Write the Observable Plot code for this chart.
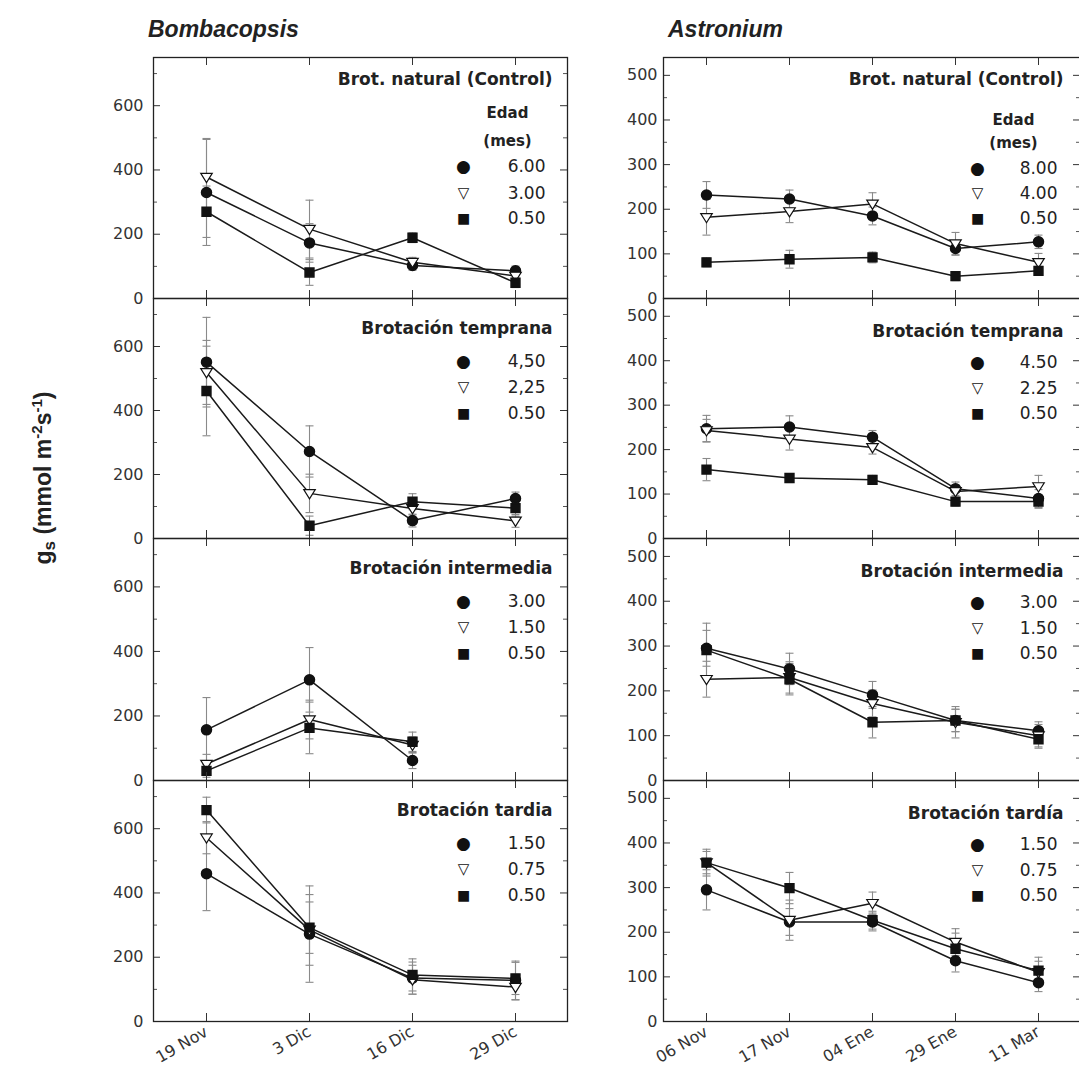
<!DOCTYPE html>
<html><head><meta charset="utf-8">
<script src="https://cdn.jsdelivr.net/npm/d3@7"></script>
<script src="https://cdn.jsdelivr.net/npm/@observablehq/plot@0.6"></script>
<style>
html,body{margin:0;padding:0;background:#fff;overflow:hidden}
#wrap{position:relative;width:1079px;height:1079px;overflow:hidden;background:#fff;font-family:"Liberation Sans",Arial,sans-serif}
.panel{position:absolute}
.coltitle{position:absolute;font-weight:bold;font-style:italic;font-size:23px;color:#222;line-height:1}
#ylab{position:absolute;left:44px;top:478px;transform:translate(-50%,-50%) rotate(-90deg);font-weight:bold;font-size:23px;white-space:nowrap;color:#222}
#ylab sub{font-size:17px;vertical-align:-4px}
#ylab sup{font-size:15px;vertical-align:9px}
g[aria-label="ptitle"] text{letter-spacing:1.7px}
g[aria-label="pvalue"] text{letter-spacing:1.3px}
</style></head><body><div id="wrap">
<div class="coltitle" style="left:148px;top:18px">Bombacopsis</div>
<div class="coltitle" style="left:668px;top:18px">Astronium</div>
<div id="ylab">g<sub>s</sub> (mmol m<sup>-2</sup>s<sup>-1</sup>)</div>
</div>
<script>
// ---------- data ----------
const bomDates = ["19 Nov", "3 Dic", "16 Dic", "29 Dic"];
const astDates = ["06 Nov", "17 Nov", "04 Ene", "29 Ene", "11 Mar"];

const bomTitles = ["Brot. natural (Control)", "Brotación temprana", "Brotación intermedia", "Brotación tardia"];
const astTitles = ["Brot. natural (Control)", "Brotación temprana", "Brotación intermedia", "Brotación tardía"];

const bomAges = [["6.00", "3.00", "0.50"], ["4,50", "2,25", "0.50"], ["3.00", "1.50", "0.50"], ["1.50", "0.75", "0.50"]];
const astAges = [["8.00", "4.00", "0.50"], ["4.50", "2.25", "0.50"], ["3.00", "1.50", "0.50"], ["1.50", "0.75", "0.50"]];

const bomYTicks = [0, 200, 400, 600];
const bomYMinor = [100, 300, 500, 700];
const astYTicks = [0, 100, 200, 300, 400, 500];
const astYMinor = [50, 150, 250, 350, 450];

// Bombacopsis (rows: natural, temprana, intermedia, tardia)
const bomCircle = [[330, 173, 103, 86], [551, 272, 56, 125], [157, 312, 62, null], [460, 272, 135, 128]];
const bomCircleErr = [[165, 60, 15, 15], [140, 80, 20, 20], [100, 100, 25, null], [115, 150, 50, 60]];
const bomTriangle = [[378, 216, 113, 70], [519, 141, 94, 55], [51, 189, 110, null], [572, 285, 130, 107]];
const bomTriangleErr = [[120, 90, 15, 15], [100, 60, 20, 20], [30, 60, 25, null], [50, 110, 45, 40]];
const bomSquare = [[270, 81, 189, 49], [461, 40, 115, 95], [30, 163, 120, null], [658, 292, 145, 134]];
const bomSquareErr = [[80, 40, 15, 15], [140, 30, 25, 25], [20, 80, 30, null], [40, 80, 50, 50]];

// Astronium
const astCircle = [[232, 223, 185, 112, 127], [247, 251, 228, 112, 90], [295, 249, 191, 134, 111], [295, 223, 223, 136, 87]];
const astCircleErr = [[30, 20, 20, 15, 15], [30, 25, 15, 15, 20], [40, 35, 30, 25, 20], [45, 30, 20, 25, 20]];
const astTriangle = [[182, 195, 212, 123, 81], [243, 224, 205, 106, 117], [226, 230, 172, 130, 100], [356, 227, 265, 178, 110]];
const astTriangleErr = [[40, 25, 25, 25, 20], [25, 25, 15, 15, 25], [40, 35, 30, 35, 25], [30, 45, 25, 30, 25]];
const astSquare = [[81, 88, 92, 50, 62], [155, 136, 132, 83, 83], [291, 226, 130, 134, 92], [356, 299, 227, 163, 114]];
const astSquareErr = [[10, 20, 12, 10, 10], [25, 10, 10, 10, 15], [60, 35, 35, 25, 20], [25, 35, 20, 35, 30]];

// ---------- drawing ----------
const rowTops = [57, 298, 538, 780, 1021];
const capSymbol = {draw(ctx, size) { const r = Math.sqrt(size / Math.PI); ctx.moveTo(-r, 0); ctx.lineTo(r, 0); }};
const triDown = {draw(ctx, size) { const r = Math.sqrt(size / Math.PI) * 1.15; ctx.moveTo(-r, -r * 0.65); ctx.lineTo(r, -r * 0.65); ctx.lineTo(0, r * 0.95); ctx.closePath(); }};
const legendGlyphs = ["●", "▽", "■"];
const glyphSizes = [17, 15, 14];

function series(dates, vals, errs, s) {
  return dates.map((d, i) => ({date: d, v: vals[i], e: errs[i], s})).filter(o => o.v != null);
}

function makePanel(col, row) {
  const left = col === 0;
  const dates = left ? bomDates : astDates;
  const c = series(dates, (left ? bomCircle : astCircle)[row], (left ? bomCircleErr : astCircleErr)[row], "c");
  const t = series(dates, (left ? bomTriangle : astTriangle)[row], (left ? bomTriangleErr : astTriangleErr)[row], "t");
  const q = series(dates, (left ? bomSquare : astSquare)[row], (left ? bomSquareErr : astSquareErr)[row], "q");
  const all = [...c, ...t, ...q];
  const top = rowTops[row], fh = rowTops[row + 1] - top;
  const mTop = 12, mBottom = row === 3 ? 58 : 12;
  const svgLeft = left ? 0 : 580;
  const mLeft = left ? 153 : 83;
  const width = left ? 572 : 502;
  const mRight = left ? 5 : 2;
  const fw = width - mLeft - mRight;
  const yMax = left ? 750 : 540;
  const yTicks = left ? bomYTicks : astYTicks;
  const yMinor = left ? bomYMinor : astYMinor;
  const title = (left ? bomTitles : astTitles)[row];
  const ages = (left ? bomAges : astAges)[row];

  // legend layout (offsets from the panel's top-right corner)
  let L;
  if (left) L = row === 0 ? {t: 22, e: 56, m: 84, rows: [109, 136, 161], tdx: -15, edx: -60, sdx: -104, vdx: -22}
                           : {t: 30, rows: [63, 89, 115], tdx: -15, sdx: -104, vdx: -22};
  else L = row === 0 ? {t: 22, e: 63, m: 86, rows: [111, 136, 161], tdx: -17, edx: -67, sdx: -103, vdx: -23}
                     : {t: 33, rows: [64, 90, 115], tdx: -17, sdx: -103, vdx: -23};

  const txt = {frameAnchor: "top-right", text: d => d, lineAnchor: "middle", fill: "#222"};
  const marks = [
    // error bars
    Plot.ruleX(all, {x: "date", y1: d => d.v - d.e, y2: d => d.v + d.e, stroke: "#8a8a8a", strokeWidth: 1.1}),
    Plot.dot(all, {x: "date", y: d => d.v - d.e, symbol: capSymbol, r: 4, stroke: "#8a8a8a", strokeWidth: 1.1}),
    Plot.dot(all, {x: "date", y: d => d.v + d.e, symbol: capSymbol, r: 4, stroke: "#8a8a8a", strokeWidth: 1.1}),
    // lines
    Plot.line(all, {x: "date", y: "v", z: "s", stroke: "#1a1a1a", strokeWidth: 1.5}),
    // markers
    Plot.dot(c, {x: "date", y: "v", symbol: "circle", r: 5, fill: "#111", stroke: "#111"}),
    Plot.dot(t, {x: "date", y: "v", symbol: triDown, r: 5, fill: "#fff", stroke: "#111", strokeWidth: 1.2}),
    Plot.dot(q, {x: "date", y: "v", symbol: "square", r: 5, fill: "#111", stroke: "#111"}),
    // inward ticks
    Plot.ruleY(yTicks, {y: d => d, insetRight: fw - 7, stroke: "#333"}),
    Plot.ruleY(yTicks, {y: d => d, insetLeft: fw - 7, stroke: "#333"}),
    Plot.ruleY(yMinor, {y: d => d, insetRight: fw - 4, stroke: "#555"}),
    Plot.ruleY(yMinor, {y: d => d, insetLeft: fw - 4, stroke: "#555"}),
    Plot.ruleX(dates, {x: d => d, insetBottom: fh - 8, stroke: "#333"}),
    Plot.ruleX(dates, {x: d => d, insetTop: fh - 8, stroke: "#333"}),
    Plot.frame({stroke: "#222", strokeWidth: 1.3}),
    // panel label
    Plot.text([title], {...txt, dx: L.tdx, dy: L.t, textAnchor: "end", fontWeight: "bold", fontSize: 17, ariaLabel: "ptitle"})
  ];
  // legend rows
  ages.forEach((a, i) => {
    marks.push(Plot.text([legendGlyphs[i]], {...txt, dx: L.sdx, dy: L.rows[i], textAnchor: "middle", fontSize: glyphSizes[i], fill: "#111"}));
    marks.push(Plot.text([a], {...txt, dx: L.vdx, dy: L.rows[i], textAnchor: "end", fontSize: 17, ariaLabel: "pvalue"}));
  });
  if (row === 0) {
    marks.push(Plot.text(["Edad"], {...txt, dx: L.edx, dy: L.e, textAnchor: "middle", fontWeight: "bold", fontSize: 15}));
    marks.push(Plot.text(["(mes)"], {...txt, dx: L.edx, dy: L.m, textAnchor: "middle", fontWeight: "bold", fontSize: 15}));
  }

  const svg = Plot.plot({
    width,
    height: fh + mTop + mBottom,
    marginLeft: mLeft, marginRight: mRight, marginTop: mTop, marginBottom: mBottom,
    style: {background: "transparent", fontFamily: "'DejaVu Sans', sans-serif", fontSize: "16px", color: "#333", overflow: "visible"},
    x: {type: "point", domain: dates, padding: 0.5, axis: row === 3 ? "bottom" : null,
        tickRotate: -30, tickSize: 0, tickPadding: 9, label: null},
    y: {domain: [0, yMax], ticks: yTicks, tickSize: 0, tickPadding: left ? 10 : 6, label: null},
    marks
  });
  const div = document.createElement("div");
  div.className = "panel";
  div.style.left = svgLeft + "px";
  div.style.top = (top - mTop) + "px";
  div.style.width = width + "px";
  div.appendChild(svg);
  document.getElementById("wrap").appendChild(div);
}

for (let col = 0; col < 2; col++) for (let row = 0; row < 4; row++) makePanel(col, row);
</script>
</body></html>
